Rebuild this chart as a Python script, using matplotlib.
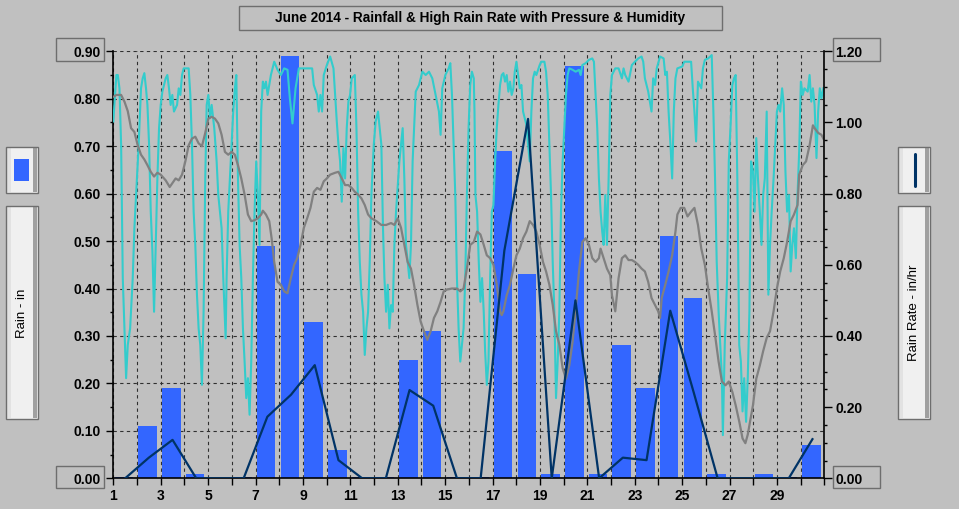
import numpy as np
import matplotlib
matplotlib.use("Agg")
import matplotlib.pyplot as plt
from matplotlib.patches import Rectangle
from matplotlib.lines import Line2D
from matplotlib.ticker import MultipleLocator, FuncFormatter, NullFormatter

# ---- data ----
days = np.arange(1, 31)

# daily rain (in), left axis
rain_in = [0.002, 0.11, 0.19, 0.01, 0.0, 0.002, 0.49, 0.89, 0.33, 0.06,
           0.002, 0.002, 0.25, 0.31, 0.002, 0.002, 0.69, 0.43, 0.01, 0.87,
           0.01, 0.28, 0.19, 0.51, 0.38, 0.01, 0.0, 0.01, 0.002, 0.07]

# daily high rain rate (in/hr), right axis
rain_rate = [0.0, 0.058, 0.108, 0.0, 0.0, 0.0, 0.173, 0.235, 0.318, 0.051,
             0.0, 0.0, 0.248, 0.204, 0.0, 0.0, 0.64, 1.01, 0.0, 0.50,
             0.0, 0.058, 0.051, 0.471, 0.239, 0.0, 0.0, 0.0, 0.0, 0.110]

# humidity (%) -- (day, value), no scale shown on the chart
hum_pts = [
    (1.00, 85.2), (1.13, 95.0), (1.19, 95.0), (1.26, 92.2), (1.33, 80.3), (1.40, 52.2),
    (1.47, 41.6), (1.54, 31.1), (1.61, 38.1), (1.71, 41.6), (1.82, 52.2), (1.89, 62.7),
    (1.96, 69.7), (2.07, 80.3), (2.17, 92.2), (2.24, 94.3), (2.31, 95.4), (2.38, 92.2),
    (2.44, 88.7), (2.51, 80.3), (2.58, 66.2), (2.65, 57.8), (2.72, 45.1), (2.79, 59.2),
    (2.86, 73.2), (2.93, 83.8), (3.00, 88.7), (3.07, 91.5), (3.21, 94.3), (3.28, 95.0),
    (3.35, 92.2), (3.42, 88.7), (3.49, 90.8), (3.56, 87.3), (3.69, 88.7), (3.76, 92.2),
    (3.83, 90.8), (3.90, 95.0), (3.97, 96.4), (4.11, 96.4), (4.18, 96.4), (4.25, 90.8),
    (4.32, 80.3), (4.39, 66.2), (4.46, 59.2), (4.53, 48.7), (4.60, 41.6), (4.67, 38.1),
    (4.74, 29.7), (4.81, 45.1), (4.88, 73.2), (4.94, 88.7), (5.01, 90.8), (5.08, 85.9),
    (5.15, 88.7), (5.26, 83.8), (5.36, 76.8), (5.43, 69.7), (5.57, 62.7), (5.64, 52.2),
    (5.74, 39.5), (5.78, 52.2), (5.85, 66.2), (5.99, 80.3), (6.06, 87.3), (6.13, 92.2),
    (6.19, 95.0), (6.26, 73.2), (6.33, 59.2), (6.40, 52.2), (6.47, 41.6), (6.54, 34.6),
    (6.61, 26.9), (6.68, 31.1), (6.75, 23.4), (6.82, 34.6), (6.89, 52.2), (6.96, 66.2),
    (7.03, 76.8), (7.10, 69.7), (7.17, 59.2), (7.24, 87.3), (7.31, 93.6), (7.38, 92.2),
    (7.44, 93.6), (7.51, 90.8), (7.58, 92.9), (7.65, 95.0), (7.72, 96.4), (7.79, 97.8),
    (7.93, 96.1), (8.07, 95.0), (8.21, 96.4), (8.35, 96.1), (8.45, 90.1), (8.56, 84.8),
    (8.69, 92.2), (8.83, 96.4), (9.39, 96.4), (9.46, 92.9), (9.60, 90.8), (9.67, 87.3),
    (9.74, 90.8), (9.81, 87.3), (9.88, 95.0), (10.01, 97.1), (10.15, 98.9), (10.29, 96.4),
    (10.43, 85.2), (10.50, 80.3), (10.57, 76.8), (10.64, 68.3), (10.71, 79.6), (10.78, 73.2),
    (10.85, 83.8), (10.92, 89.4), (10.99, 90.8), (11.06, 94.3), (11.19, 95.0), (11.26, 83.8),
    (11.33, 66.2), (11.40, 55.7), (11.47, 48.7), (11.54, 45.1), (11.61, 36.0), (11.68, 41.6),
    (11.75, 45.1), (11.82, 55.7), (11.89, 69.7), (11.99, 80.3), (12.07, 85.2), (12.17, 87.3),
    (12.24, 83.8), (12.31, 80.3), (12.38, 62.7), (12.44, 52.2), (12.51, 45.1), (12.58, 50.8),
    (12.65, 41.6), (12.72, 46.5), (12.79, 45.1), (12.86, 59.2), (12.93, 66.2), (13.07, 76.8),
    (13.14, 80.3), (13.21, 83.8), (13.28, 73.2), (13.35, 59.2), (13.42, 55.7), (13.49, 52.2),
    (13.56, 59.2), (13.63, 76.8), (13.69, 83.8), (13.76, 91.5), (13.90, 92.9), (14.04, 95.7),
    (14.18, 95.0), (14.32, 95.7), (14.46, 94.3), (14.60, 90.8), (14.74, 87.3), (14.81, 82.4),
    (14.88, 92.2), (15.01, 95.0), (15.15, 96.4), (15.22, 97.5), (15.29, 90.8), (15.36, 80.3),
    (15.43, 69.7), (15.50, 52.2), (15.57, 41.6), (15.64, 34.6), (15.71, 38.1), (15.78, 41.6),
    (15.85, 52.2), (15.92, 69.7), (15.99, 83.8), (16.06, 92.9), (16.13, 95.7), (16.21, 94.3),
    (16.24, 87.3), (16.28, 69.7), (16.35, 66.2), (16.42, 55.7), (16.49, 47.2), (16.56, 52.2),
    (16.63, 45.1), (16.69, 36.7), (16.76, 29.7), (16.83, 34.6), (16.90, 52.2), (16.97, 66.2),
    (17.04, 67.6), (17.11, 76.8), (17.18, 83.8), (17.25, 88.7), (17.32, 92.9), (17.39, 95.0),
    (17.46, 95.4), (17.53, 93.6), (17.60, 95.0), (17.67, 91.5), (17.74, 93.6), (17.81, 90.8),
    (17.88, 92.2), (17.94, 95.7), (18.01, 97.8), (18.08, 95.0), (18.15, 92.2), (18.22, 92.9),
    (18.29, 87.3), (18.36, 85.9), (18.43, 84.5), (18.50, 80.3), (18.57, 76.8), (18.64, 87.3),
    (18.71, 94.3), (18.78, 95.7), (18.85, 95.0), (18.99, 97.1), (19.06, 97.8), (19.19, 97.8),
    (19.26, 95.7), (19.33, 90.8), (19.40, 80.3), (19.47, 69.7), (19.54, 55.7), (19.61, 45.1),
    (19.68, 26.9), (19.75, 34.6), (19.82, 45.1), (19.89, 66.2), (19.96, 76.8), (20.03, 83.8),
    (20.10, 90.8), (20.17, 95.0), (20.24, 96.4), (20.38, 96.1), (20.51, 95.7), (20.65, 96.1),
    (20.72, 95.0), (20.79, 97.1), (20.93, 97.5), (21.07, 98.2), (21.21, 98.5), (21.28, 97.8),
    (21.35, 90.8), (21.42, 83.8), (21.49, 73.2), (21.56, 66.2), (21.63, 62.0), (21.69, 59.2),
    (21.76, 69.7), (21.83, 59.2), (21.90, 73.2), (21.97, 90.8), (22.04, 95.0), (22.18, 96.4),
    (22.32, 96.4), (22.46, 94.3), (22.53, 96.4), (22.60, 95.0), (22.74, 93.6), (22.88, 97.1),
    (23.01, 97.8), (23.15, 98.5), (23.29, 98.9), (23.36, 97.8), (23.43, 94.3), (23.57, 91.5),
    (23.64, 89.4), (23.71, 87.3), (23.78, 94.3), (23.86, 92.9), (23.93, 96.4), (24.07, 98.9),
    (24.22, 98.5), (24.29, 95.0), (24.36, 95.7), (24.43, 87.3), (24.51, 80.3), (24.58, 73.2),
    (24.65, 87.3), (24.72, 94.3), (24.80, 96.4), (25.01, 96.8), (25.09, 97.8), (25.23, 97.8),
    (25.38, 97.8), (25.45, 92.2), (25.52, 87.3), (25.59, 81.0), (25.67, 93.6), (25.81, 92.2),
    (25.88, 96.4), (25.96, 98.2), (26.10, 98.5), (26.25, 99.2), (26.32, 87.3), (26.39, 73.2),
    (26.46, 55.7), (26.54, 45.1), (26.61, 38.1), (26.68, 31.1), (26.72, 19.1), (26.80, 38.1),
    (26.90, 52.2), (26.97, 76.8), (27.04, 83.8), (27.12, 92.9), (27.19, 94.3), (27.26, 95.0),
    (27.33, 73.2), (27.41, 38.1), (27.48, 34.6), (27.55, 24.1), (27.62, 31.1), (27.70, 21.9),
    (27.77, 31.1), (27.84, 45.1), (27.91, 76.8), (27.99, 74.7), (28.06, 66.2), (28.13, 81.7),
    (28.20, 73.2), (28.28, 66.2), (28.35, 59.2), (28.42, 69.7), (28.49, 73.2), (28.57, 87.3),
    (28.64, 48.7), (28.71, 59.2), (28.78, 66.2), (28.86, 73.2), (28.93, 80.3), (29.00, 87.3),
    (29.07, 88.7), (29.14, 87.3), (29.22, 92.2), (29.29, 88.7), (29.36, 74.7), (29.43, 66.2),
    (29.51, 69.7), (29.58, 53.6), (29.65, 59.2), (29.72, 62.7), (29.80, 56.4), (29.87, 69.7),
    (29.94, 78.9), (30.01, 93.6), (30.09, 90.8), (30.16, 92.2), (30.30, 91.5), (30.38, 95.0),
    (30.45, 89.4), (30.52, 92.2), (30.59, 88.7), (30.67, 77.5), (30.74, 87.3), (30.81, 92.2),
    (30.88, 90.1), (30.96, 92.2),
]

# barometric pressure (inHg) -- (day, value), no scale shown on the chart
pres_pts = [
    (1.00, 30.002), (1.13, 30.004), (1.33, 30.004), (1.47, 29.997), (1.61, 29.987),
    (1.75, 29.969), (1.89, 29.965), (2.03, 29.951), (2.17, 29.941), (2.31, 29.936),
    (2.44, 29.930), (2.58, 29.923), (2.72, 29.918), (2.86, 29.922), (3.00, 29.920),
    (3.21, 29.914), (3.38, 29.907), (3.49, 29.911), (3.63, 29.916), (3.76, 29.914),
    (3.90, 29.920), (4.04, 29.934), (4.18, 29.951), (4.32, 29.958), (4.46, 29.960),
    (4.60, 29.953), (4.74, 29.950), (4.88, 29.964), (5.01, 29.979), (5.15, 29.981),
    (5.29, 29.979), (5.43, 29.974), (5.57, 29.962), (5.71, 29.944), (5.85, 29.941),
    (5.99, 29.944), (6.13, 29.941), (6.26, 29.930), (6.40, 29.916), (6.54, 29.899),
    (6.68, 29.878), (6.82, 29.871), (6.96, 29.872), (7.10, 29.874), (7.24, 29.878),
    (7.31, 29.882), (7.44, 29.878), (7.58, 29.871), (7.68, 29.853), (7.79, 29.828),
    (7.93, 29.807), (8.07, 29.804), (8.21, 29.797), (8.35, 29.795), (8.49, 29.811),
    (8.63, 29.825), (8.76, 29.832), (8.90, 29.846), (9.04, 29.864), (9.18, 29.874),
    (9.32, 29.885), (9.46, 29.902), (9.60, 29.906), (9.74, 29.904), (9.88, 29.913),
    (10.01, 29.916), (10.15, 29.920), (10.36, 29.922), (10.50, 29.923), (10.64, 29.916),
    (10.78, 29.909), (10.92, 29.909), (11.06, 29.906), (11.19, 29.902), (11.33, 29.899),
    (11.47, 29.895), (11.61, 29.888), (11.75, 29.878), (11.89, 29.874), (12.10, 29.871),
    (12.31, 29.867), (12.51, 29.867), (12.72, 29.869), (12.86, 29.867), (13.00, 29.874),
    (13.14, 29.864), (13.28, 29.846), (13.42, 29.828), (13.56, 29.821), (13.69, 29.804),
    (13.83, 29.783), (13.97, 29.765), (14.11, 29.755), (14.25, 29.746), (14.39, 29.755),
    (14.53, 29.769), (14.67, 29.776), (14.81, 29.786), (14.94, 29.797), (15.08, 29.799),
    (15.29, 29.800), (15.50, 29.800), (15.64, 29.797), (15.78, 29.800), (15.92, 29.821),
    (16.06, 29.846), (16.21, 29.849), (16.35, 29.860), (16.49, 29.857), (16.63, 29.846),
    (16.76, 29.835), (16.90, 29.832), (17.04, 29.825), (17.18, 29.804), (17.32, 29.776),
    (17.39, 29.772), (17.46, 29.776), (17.60, 29.793), (17.74, 29.804), (17.88, 29.821),
    (18.01, 29.835), (18.15, 29.842), (18.29, 29.853), (18.43, 29.860), (18.57, 29.871),
    (18.71, 29.867), (18.85, 29.860), (18.99, 29.846), (19.13, 29.828), (19.26, 29.818),
    (19.40, 29.804), (19.54, 29.783), (19.68, 29.755), (19.82, 29.741), (19.96, 29.716),
    (20.10, 29.705), (20.24, 29.719), (20.38, 29.744), (20.51, 29.779), (20.65, 29.818),
    (20.79, 29.849), (20.93, 29.853), (21.07, 29.846), (21.21, 29.832), (21.35, 29.828),
    (21.49, 29.832), (21.56, 29.842), (21.69, 29.832), (21.83, 29.821), (21.97, 29.814),
    (22.04, 29.793), (22.18, 29.776), (22.32, 29.811), (22.46, 29.832), (22.60, 29.835),
    (22.74, 29.830), (22.88, 29.830), (23.01, 29.828), (23.15, 29.825), (23.29, 29.821),
    (23.43, 29.818), (23.57, 29.807), (23.71, 29.790), (23.85, 29.783), (23.99, 29.776),
    (24.07, 29.769), (24.14, 29.790), (24.29, 29.804), (24.43, 29.818), (24.58, 29.835),
    (24.72, 29.860), (24.80, 29.878), (24.94, 29.885), (25.09, 29.885), (25.23, 29.876),
    (25.38, 29.881), (25.52, 29.885), (25.67, 29.867), (25.81, 29.842), (25.96, 29.825),
    (26.10, 29.800), (26.25, 29.776), (26.39, 29.751), (26.54, 29.723), (26.68, 29.702),
    (26.83, 29.698), (26.97, 29.702), (27.12, 29.691), (27.26, 29.677), (27.41, 29.660),
    (27.55, 29.642), (27.67, 29.637), (27.77, 29.646), (27.84, 29.656), (27.99, 29.677),
    (28.13, 29.705), (28.28, 29.719), (28.42, 29.734), (28.57, 29.748), (28.71, 29.755),
    (28.86, 29.776), (29.00, 29.800), (29.14, 29.818), (29.29, 29.832), (29.43, 29.849),
    (29.58, 29.871), (29.72, 29.878), (29.87, 29.888), (29.94, 29.920), (30.09, 29.930),
    (30.23, 29.934), (30.38, 29.951), (30.52, 29.972), (30.59, 29.969), (30.74, 29.964),
    (30.88, 29.962), (30.96, 29.958),
]

TITLE = "June 2014 - Rainfall & High Rain Rate with Pressure & Humidity"
LEFT_LABEL = "Rain - in"
RIGHT_LABEL = "Rain Rate - in/hr"

# ---- colours ----
BG = "#c0c0c0"
BAR = "#3366ff"
RATE = "#003366"
HUM = "#33cccc"
PRES = "#808080"
GRID = "#303030"

plt.rcParams["font.family"] = ["Liberation Sans", "DejaVu Sans"]
plt.rcParams["font.weight"] = "bold"

W, H = 959, 509
fig = plt.figure(figsize=(W / 100, H / 100), dpi=100, facecolor=BG)

# decorations drawn in pixel coordinates (boxes, legend chips)
deco = fig.add_axes([0, 0, 1, 1], zorder=0)
deco.set_xlim(0, W)
deco.set_ylim(H, 0)
deco.set_axis_off()


def box(x0, y0, x1, y1, face="none"):
    deco.add_patch(Rectangle((x0, y0), x1 - x0, y1 - y0, facecolor=face,
                             edgecolor="#6e6e6e", linewidth=1))


def side_panel(x0, y0, x1, y1):
    deco.add_patch(Rectangle((x0, y0), x1 - x0, y1 - y0, facecolor="#f0f0f0",
                             edgecolor="none"))
    deco.add_patch(Rectangle((x0 + 1, y0 + 1), 4, y1 - y0 - 2, facecolor="#e2e2e2",
                             edgecolor="none"))
    deco.add_patch(Rectangle((x1 - 5, y0 + 1), 4, y1 - y0 - 2, facecolor="#a0a0a0",
                             edgecolor="none"))
    box(x0, y0, x1, y1)


box(239, 6, 722, 30)
deco.text(480.5, 18, TITLE, ha="center", va="center", fontsize=9.8)

box(56, 38, 104, 61)
box(56, 466, 104, 488)
box(833, 38, 880, 61)
box(833, 466, 880, 488)

side_panel(6, 147, 38, 193)
deco.add_patch(Rectangle((14, 159), 15, 22, facecolor=BAR, edgecolor="none"))
side_panel(6, 206, 38, 419)
deco.text(22, 313, LEFT_LABEL, rotation=90, ha="center", va="center",
          fontsize=9.5, fontweight="normal")

side_panel(898, 147, 930, 193)
deco.add_line(Line2D([914.5, 914.5], [154, 186], color=RATE, linewidth=2.2,
                     solid_capstyle="round"))
side_panel(898, 206, 930, 419)
deco.text(914, 313, RIGHT_LABEL, rotation=90, ha="center", va="center",
          fontsize=9.5, fontweight="normal")

# ---- main plot ----
L, R, T, B = 113.3, 824.3, 51.3, 478.3
ax = fig.add_axes([L / W, 1 - B / H, (R - L) / W, (B - T) / H], zorder=1)
ax.set_facecolor(BG)
ax.set_xlim(1, 31)
ax.set_ylim(0, 0.9)
ax.set_axisbelow(True)

ax.bar(days + 0.45, rain_in, width=0.78, color=BAR, zorder=1)

ax.xaxis.set_major_locator(MultipleLocator(1))
ax.xaxis.set_major_formatter(FuncFormatter(
    lambda v, p: f"{int(round(v))}" if int(round(v)) % 2 == 1 and v < 30.5 else ""))
ax.yaxis.set_major_locator(MultipleLocator(0.1))
ax.yaxis.set_minor_locator(MultipleLocator(0.05))
ax.yaxis.set_major_formatter(FuncFormatter(lambda v, p: f"{v:.2f}"))
ax.grid(True, which="major", color=GRID, linestyle=(0, (3, 3)), linewidth=0.8)
ax.tick_params(axis="x", which="major", direction="out", length=5, width=1,
               pad=3, labelsize=10)
ax.tick_params(axis="y", which="major", direction="out", length=5, width=1,
               pad=4, labelsize=10)
ax.tick_params(axis="y", which="minor", direction="out", length=2.5, width=1)
for s in ["top", "right"]:
    ax.spines[s].set_visible(False)
for s in ["left", "bottom"]:
    ax.spines[s].set_linewidth(1.2)

# humidity on its own hidden scale
ax_h = ax.twinx()
ax_h.set_ylim(10, 100)
ax_h.set_axis_off()
hum = np.array(hum_pts)
ax_h.plot(hum[:, 0], hum[:, 1], color=HUM, linewidth=1.5)

# pressure on its own hidden scale
ax_p = ax.twinx()
ax_p.set_ylim(29.60, 30.05)
ax_p.set_axis_off()
pres = np.array(pres_pts)
ax_p.plot(pres[:, 0], pres[:, 1], color=PRES, linewidth=1.6)

# rain rate, right axis
ax_r = ax.twinx()
ax_r.set_ylim(0, 1.2)
ax_r.plot(days + 0.5, rain_rate, color=RATE, linewidth=1.6)
ax_r.yaxis.set_major_locator(MultipleLocator(0.2))
ax_r.yaxis.set_minor_locator(MultipleLocator(0.05))
ax_r.yaxis.set_major_formatter(FuncFormatter(lambda v, p: f"{v:.2f}"))
ax_r.yaxis.set_minor_formatter(NullFormatter())
ax_r.tick_params(axis="y", which="major", direction="out", length=6, width=1,
                 pad=2, labelsize=10)
ax_r.tick_params(axis="y", which="minor", direction="out", length=2.5, width=1)
ax_r.spines["top"].set_visible(False)
ax_r.spines["left"].set_visible(False)
ax_r.spines["bottom"].set_visible(False)
ax_r.spines["right"].set_linewidth(1.2)

fig.savefig("out.png", dpi=100, facecolor=BG)
